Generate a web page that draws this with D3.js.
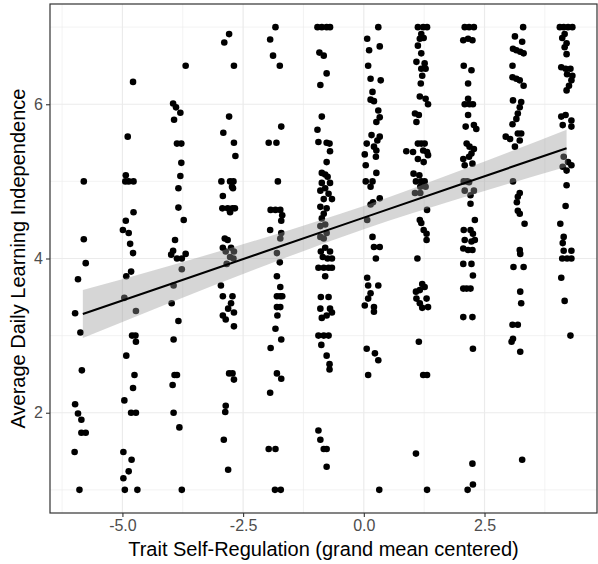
<!DOCTYPE html>
<html>
<head>
<meta charset="utf-8">
<script src="https://cdn.jsdelivr.net/npm/d3@7"></script>
<style>
  body { margin: 0; background: #fff; }
  svg text { font-family: "Liberation Sans", Arial, sans-serif; }
</style>
</head>
<body>
<div id="chart"></div>
<script>
// ---- data (x already jittered) ----
let col1 = [[-5.80,5.00],[-5.80,4.25],[-5.76,3.94],[-5.92,3.73],[-5.98,3.29],[-5.87,3.04],[-5.84,2.55],[-5.98,2.11],[-5.92,1.99],[-5.85,1.91],[-5.85,1.74],[-5.76,1.74],[-5.99,1.49],[-5.89,1.00]];
let col2 = [[-4.78,6.29],[-4.89,5.58],[-4.93,5.08],[-4.94,5.00],[-4.87,5.00],[-4.77,5.00],[-4.77,4.60],[-4.93,4.49],[-4.99,4.37],[-4.87,4.33],[-4.84,4.19],[-4.78,4.07],[-4.82,3.83],[-4.92,3.77],[-4.96,3.49],[-4.72,3.32],[-4.80,3.00],[-4.73,3.00],[-4.72,2.92],[-4.92,2.74],[-4.75,2.49],[-4.78,2.32],[-4.96,2.16],[-4.82,2.00],[-4.72,2.00],[-4.98,1.49],[-4.81,1.39],[-4.87,1.24],[-4.98,1.15],[-4.95,1.00],[-4.69,1.00]];
let col3 = [[-3.69,6.50],[-3.95,6.01],[-3.89,5.96],[-3.80,5.89],[-3.93,5.80],[-3.87,5.49],[-3.78,5.49],[-3.78,5.24],[-3.80,5.07],[-3.84,4.91],[-3.84,4.66],[-3.73,4.50],[-3.91,4.24],[-3.95,4.10],[-3.99,4.05],[-3.87,4.00],[-3.77,4.00],[-3.69,4.06],[-3.77,3.86],[-3.94,3.65],[-3.98,3.42],[-3.84,3.19],[-3.94,2.95],[-3.92,2.49],[-3.87,2.49],[-3.96,2.36],[-3.94,2.00],[-3.82,1.81],[-3.77,1.00]];
let col4 = [[-2.79,6.91],[-2.89,6.80],[-2.69,6.50],[-2.79,5.84],[-2.91,5.63],[-2.69,5.50],[-2.66,5.33],[-2.95,5.00],[-2.77,5.00],[-2.70,5.00],[-2.73,4.93],[-2.71,4.91],[-2.92,4.81],[-2.93,4.65],[-2.82,4.65],[-2.72,4.65],[-2.67,4.65],[-2.77,4.60],[-2.88,4.26],[-2.82,4.24],[-2.92,4.14],[-2.75,4.14],[-2.86,4.09],[-2.69,4.09],[-2.77,4.02],[-2.70,4.00],[-2.84,3.93],[-2.96,3.65],[-2.92,3.51],[-2.72,3.51],[-2.75,3.42],[-2.81,3.35],[-2.69,3.30],[-2.92,3.26],[-2.86,3.21],[-2.69,3.12],[-2.79,2.51],[-2.72,2.51],[-2.69,2.43],[-2.86,2.09],[-2.87,2.01],[-2.90,1.65],[-2.81,1.26]];
let col5 = [[-1.83,7.00],[-1.94,6.84],[-1.88,6.63],[-1.74,6.50],[-1.71,5.71],[-1.97,5.50],[-1.81,5.50],[-1.78,5.00],[-1.93,4.63],[-1.83,4.63],[-1.73,4.63],[-1.69,4.56],[-1.71,4.49],[-1.94,4.37],[-1.71,4.33],[-1.73,4.26],[-1.80,4.07],[-1.74,3.95],[-1.80,3.77],[-1.73,3.63],[-1.80,3.51],[-1.73,3.51],[-1.69,3.51],[-1.80,3.37],[-1.73,3.37],[-1.79,3.26],[-1.83,3.09],[-1.71,2.95],[-1.93,2.84],[-1.80,2.51],[-1.71,2.44],[-1.94,2.26],[-1.97,1.53],[-1.83,1.53],[-1.84,1.00],[-1.72,1.00]];
let col6 = [[-0.96,7.00],[-0.87,7.00],[-0.77,7.00],[-0.70,7.00],[-0.92,6.67],[-0.83,6.63],[-0.77,6.40],[-0.90,6.25],
    [-0.87,5.84],[-0.96,5.67],[-0.94,5.51],[-0.77,5.50],[-0.71,5.49],[-0.70,5.39],[-0.77,5.25],
    [-0.87,5.11],[-0.80,5.09],[-0.75,5.06],[-0.87,4.98],[-0.70,4.98],[-0.80,4.91],[-0.90,4.88],[-0.73,4.84],[-0.83,4.77],[-0.66,4.77],
    [-0.90,4.67],[-0.77,4.65],[-0.83,4.58],[-0.87,4.52],[-0.80,4.44],[-0.90,4.42],[-0.77,4.33],[-0.90,4.28],[-0.83,4.26],
    [-0.80,4.14],[-0.89,4.09],[-0.70,4.09],[-0.85,4.02],[-0.75,4.00],[-0.66,4.00],
    [-0.94,3.88],[-0.83,3.88],[-0.73,3.88],[-0.66,3.88],[-0.80,3.77],
    [-0.89,3.50],[-0.73,3.50],[-0.90,3.35],[-0.70,3.35],[-0.66,3.30],[-0.77,3.26],[-0.87,3.23],
    [-0.94,3.00],[-0.83,3.00],[-0.73,3.00],[-0.88,2.88],[-0.77,2.74],[-0.71,2.63],[-0.71,2.56],
    [-0.94,1.77],[-0.90,1.65],[-0.83,1.53],[-0.77,1.53],[-0.77,1.30]];
let col7 = [[0.30,7.00],[0.07,6.85],[0.33,6.75],[0.11,6.70],[0.09,6.50],[0.14,6.33],[0.35,6.31],[0.18,6.16],[0.14,6.06],[0.21,6.04],
    [0.30,5.92],[0.33,5.83],[0.26,5.77],[0.16,5.60],[0.33,5.58],[0.28,5.53],[0.06,5.49],[0.21,5.45],[0.26,5.40],[0.02,5.35],[0.25,5.32],[0.04,5.21],[0.26,5.11],
    [0.04,5.00],[0.18,5.00],[0.14,4.93],[0.33,4.78],[0.19,4.73],[0.14,4.70],[0.07,4.50],[0.18,4.28],[0.21,4.15],[0.33,4.15],[0.25,4.00],
    [0.07,3.75],[0.09,3.65],[0.30,3.65],[0.14,3.55],[0.09,3.48],[0.02,3.39],[0.21,3.37],[0.21,3.31],[0.06,2.83],[0.23,2.77],[0.30,2.68],[0.09,2.49],[0.32,1.00]];
let col8 = [[1.12,7.00],[1.23,7.00],[1.31,7.00],[1.19,6.91],[1.16,6.85],[1.24,6.86],[1.12,6.76],[1.19,6.66],[1.09,6.55],[1.26,6.53],[1.19,6.46],[1.28,6.46],[1.21,6.37],[1.18,6.27],[1.16,6.10],[1.28,6.07],[1.33,6.00],
    [1.06,5.88],[1.14,5.86],[1.09,5.77],[1.12,5.49],[1.19,5.49],[1.26,5.49],[0.88,5.39],[1.02,5.38],[1.23,5.40],[1.31,5.38],[1.33,5.34],[1.12,5.29],[1.24,5.25],[1.03,5.10],[1.15,5.08],
    [1.19,5.00],[1.26,5.00],[1.08,5.00],[1.17,4.93],[1.28,4.93],[1.06,4.85],[1.17,4.85],[1.31,4.63],[1.16,4.50],[1.19,4.46],[1.24,4.37],[1.30,4.32],[1.30,4.24],[1.11,4.00],
    [1.21,3.67],[1.26,3.63],[1.08,3.57],[1.16,3.59],[1.09,3.48],[1.30,3.48],[1.16,3.42],[1.21,3.36],[1.33,3.37],[1.14,2.92],[1.23,2.49],[1.31,2.49],[1.08,1.47],[1.31,1.00]];
let col9 = [[2.09,7.00],[2.18,7.00],[2.28,7.00],[2.06,6.83],[2.16,6.85],[2.25,6.83],[2.07,6.50],[2.23,6.44],[2.16,6.27],[2.16,6.07],[2.09,6.00],[2.19,6.00],[2.26,6.00],
    [2.16,5.86],[2.11,5.71],[2.28,5.73],[2.33,5.68],[2.13,5.49],[2.19,5.45],[2.28,5.42],[2.23,5.36],[2.06,5.29],[2.18,5.32],[2.09,5.21],[2.25,5.23],
    [2.07,5.00],[2.14,5.00],[2.18,4.99],[2.09,4.88],[2.28,4.88],[2.21,4.82],[2.21,4.71],[2.30,4.50],[2.07,4.37],[2.21,4.37],[2.26,4.32],[2.09,4.24],[2.23,4.22],[2.30,4.24],
    [2.06,4.13],[2.16,4.11],[2.25,4.11],[2.06,3.93],[2.23,3.93],[2.26,3.78],[2.06,3.61],[2.13,3.61],[2.21,3.61],[2.06,3.24],[2.25,3.24],[2.26,2.83],[2.25,1.34],[2.26,1.07],[2.15,1.00]];
let col10 = [[3.30,7.00],[3.13,6.88],[3.28,6.81],[3.09,6.72],[3.16,6.70],[3.24,6.68],[3.31,6.66],[3.08,6.50],[3.08,6.35],[3.16,6.33],[3.23,6.31],[3.31,6.24],[3.09,6.05],[3.26,6.03],[3.23,5.96],
    [3.19,5.88],[3.16,5.81],[3.08,5.74],[2.94,5.58],[3.19,5.62],[3.26,5.62],[3.03,5.55],[3.23,5.53],[3.13,5.45],[3.09,5.00],[3.23,4.85],[3.19,4.80],[3.17,4.73],[3.19,4.62],[3.23,4.58],[3.33,4.45],
    [3.23,4.11],[3.24,4.06],[3.10,3.89],[3.31,3.89],[3.24,3.57],[3.26,3.42],[3.08,3.14],[3.19,3.14],[3.09,2.96],[3.06,2.92],[3.24,2.79],[3.28,1.39]];
let col11 = [[4.06,7.00],[4.14,7.00],[4.23,7.00],[4.32,7.00],[4.16,6.91],[4.11,6.86],[4.20,6.79],[4.16,6.74],[4.20,6.65],[4.09,6.48],[4.18,6.46],[4.28,6.46],[4.21,6.39],[4.32,6.37],[4.30,6.31],[4.25,6.24],[4.20,6.18],
    [4.09,5.84],[4.18,5.86],[4.30,5.79],[4.12,5.73],[4.30,5.71],[4.14,5.32],[4.23,5.25],[4.30,5.21],[4.12,5.19],[4.20,5.14],[4.20,4.95],[4.18,4.68],[4.07,4.45],[4.14,4.28],[4.12,4.20],
    [4.14,4.10],[4.30,4.10],[4.11,4.00],[4.21,4.00],[4.30,4.00],[4.09,3.75],[4.16,3.45],[4.28,3.00]];

// linear fit with its 95% band, read at a few x positions
let fitX  = [-5.82, -4.00, -2.00, 0.00, 2.00, 4.20];
let fitY  = [ 3.28,  3.67,  4.10, 4.53, 4.96, 5.43];
let fitLo = [ 2.97,  3.43,  3.92, 4.38, 4.78, 5.19];
let fitHi = [ 3.59,  3.91,  4.28, 4.68, 5.14, 5.67];

let xMajor = [-5, -2.5, 0, 2.5],
    xMinor = [-6.25, -3.75, -1.25, 1.25, 3.75],
    yMajor = [2, 4, 6],
    yMinor = [1, 3, 5, 7];

// draw
{
    let width = 598,
        height = 564,
        margin = { top: 4, right: 1, bottom: 51, left: 50 };

    let points = [].concat(col1, col2, col3, col4, col5, col6, col7, col8, col9, col10, col11);

    let x = d3.scaleLinear()
        .domain([-6.50, 4.83])
        .range([margin.left, width - margin.right]);
    let y = d3.scaleLinear()
        .domain([0.7, 7.3])
        .range([height - margin.bottom, margin.top]);

    let svg = d3.select("#chart").append("svg")
        .attr("width", width)
        .attr("height", height);

    // grid
    let grid = svg.append("g");
    grid.selectAll(".vminor").data(xMinor).enter().append("line")
        .attr("x1", d => x(d)).attr("x2", d => x(d))
        .attr("y1", margin.top).attr("y2", height - margin.bottom)
        .attr("stroke", "#ebebeb").attr("stroke-width", 0.6);
    grid.selectAll(".hminor").data(yMinor).enter().append("line")
        .attr("x1", margin.left).attr("x2", width - margin.right)
        .attr("y1", d => y(d)).attr("y2", d => y(d))
        .attr("stroke", "#ebebeb").attr("stroke-width", 0.6);
    grid.selectAll(".vmajor").data(xMajor).enter().append("line")
        .attr("x1", d => x(d)).attr("x2", d => x(d))
        .attr("y1", margin.top).attr("y2", height - margin.bottom)
        .attr("stroke", "#ebebeb").attr("stroke-width", 1.2);
    grid.selectAll(".hmajor").data(yMajor).enter().append("line")
        .attr("x1", margin.left).attr("x2", width - margin.right)
        .attr("y1", d => y(d)).attr("y2", d => y(d))
        .attr("stroke", "#ebebeb").attr("stroke-width", 1.2);

    // points
    svg.append("g").selectAll("circle")
        .data(points)
        .enter()
        .append("circle")
        .attr("cx", d => x(d[0]))
        .attr("cy", d => y(d[1]))
        .attr("r", 3.3)
        .attr("fill", "#000");

    // smooth band + line
    let fit = fitX.map((v, i) => ({ x: v, y: fitY[i], lo: fitLo[i], hi: fitHi[i] }));
    svg.append("path")
        .datum(fit)
        .attr("d", d3.area().x(d => x(d.x)).y0(d => y(d.lo)).y1(d => y(d.hi)).curve(d3.curveMonotoneX))
        .attr("fill", "#999999")
        .attr("fill-opacity", 0.4);
    svg.append("path")
        .datum(fit)
        .attr("d", d3.line().x(d => x(d.x)).y(d => y(d.y)))
        .attr("fill", "none")
        .attr("stroke", "#000")
        .attr("stroke-width", 2.1);

    // panel border
    svg.append("rect")
        .attr("x", margin.left)
        .attr("y", margin.top)
        .attr("width", width - margin.left - margin.right)
        .attr("height", height - margin.top - margin.bottom)
        .attr("fill", "none")
        .attr("stroke", "#333333")
        .attr("stroke-width", 1.2);

    // axes
    let xAxis = d3.axisBottom(x).tickValues(xMajor).tickFormat(d3.format(".1f")).tickSize(4).tickPadding(3);
    let yAxis = d3.axisLeft(y).tickValues(yMajor).tickFormat(d3.format("d")).tickSize(4).tickPadding(3);
    let gx = svg.append("g")
        .attr("transform", "translate(0," + (height - margin.bottom) + ")")
        .call(xAxis);
    let gy = svg.append("g")
        .attr("transform", "translate(" + margin.left + ",0)")
        .call(yAxis);
    [gx, gy].forEach(function(g) {
        g.select(".domain").remove();
        g.selectAll(".tick line").attr("stroke", "#333333").attr("stroke-width", 1.1);
        g.selectAll(".tick text").attr("fill", "#4d4d4d").attr("font-size", 16);
    });
    // ggplot prints a plain hyphen for negatives
    gx.selectAll(".tick text").text(d => d3.format(".1f")(d).replace("\u2212", "-"));

    // titles
    svg.append("text")
        .attr("x", (margin.left + width - margin.right) / 2)
        .attr("y", 556)
        .attr("text-anchor", "middle")
        .attr("font-size", 20)
        .attr("fill", "#000")
        .text("Trait Self-Regulation (grand mean centered)");
    svg.append("text")
        .attr("transform", "translate(25," + ((margin.top + height - margin.bottom) / 2) + ") rotate(-90)")
        .attr("text-anchor", "middle")
        .attr("font-size", 20)
        .attr("fill", "#000")
        .text("Average Daily Learning Independence");
}
</script>
</body>
</html>
